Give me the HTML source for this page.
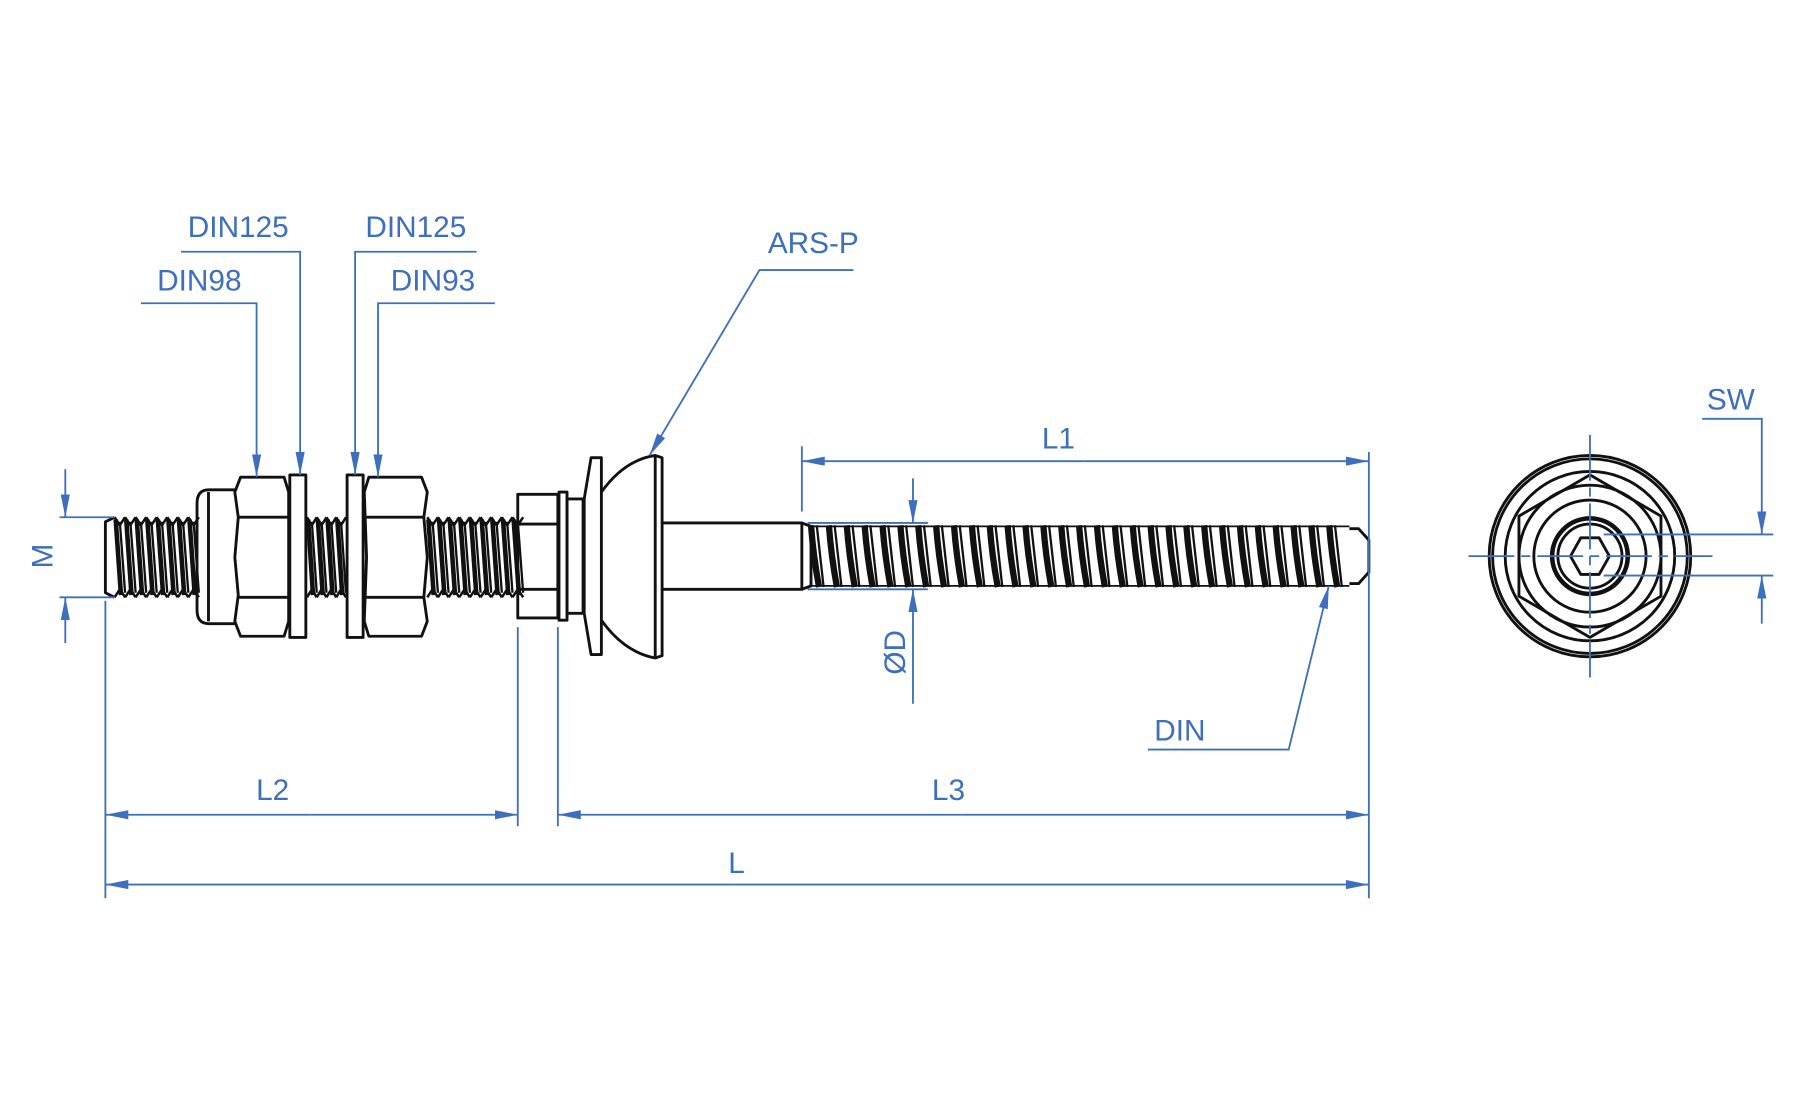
<!DOCTYPE html>
<html><head><meta charset="utf-8"><style>
html,body{margin:0;padding:0;background:#fff}
svg{display:block}
text{font-family:"Liberation Sans",sans-serif;fill:#3d6fbd;font-size:26px}
</style></head><body>
<svg id="s" width="1795" height="1110" viewBox="0 0 1567 970" preserveAspectRatio="none" xmlns="http://www.w3.org/2000/svg">
<defs>
<marker id="a" viewBox="0 0 20 8" refX="20" refY="4" markerWidth="20" markerHeight="8" markerUnits="userSpaceOnUse" orient="auto"><path d="M0,0L20,4L0,8z" fill="#3d6fbd"/></marker>
</defs>
<g id="blk" fill="none" stroke="#111" stroke-width="2.5" stroke-linejoin="round">
<path d="M100,452 L92,456 L92,518 L100,522"/>
<path d="M205,428 L182,428 Q172,428 172,440 L172,533 Q172,545 182,545 L205,545"/>
<path d="M182,430 L182,543"/>
<path d="M210,417 L248,417 L252,430 L252,543 L248,556 L210,556 L205,543 L208,520 L205,487 L208,452 L205,430 Z"/>
<path d="M208,452 L252,452 M208,522 L252,522"/>
<rect x="253" y="415" width="14" height="142"/>
<rect x="303" y="415" width="14" height="142"/>
<path d="M322,417 L368,417 L373,430 L370,452 L373,487 L370,522 L373,543 L368,556 L322,556 L318,543 L320,487 L318,430 Z"/>
<path d="M320,452 L370,452 M320,522 L370,522"/>
<rect x="452" y="432" width="35" height="108"/>
<path d="M452,458 L487,458 M452,515 L487,515"/>
<rect x="488" y="430" width="7" height="112"/>
<rect x="495" y="436" width="14" height="100"/>
<path d="M516,400 L525,400 L525,572 L516,572 L510,536 L510,436 Z"/>
<path d="M525,430 Q545,402 572,398 L578,400 L578,573 L572,575 Q545,570 525,542"/>
<path d="M572,398 L572,575"/>
<path d="M578,457 L700,457 L700,515 L578,515"/>
<path d="M700,457 L708,460 L708,512 L700,515"/>
<path d="M1178,462 L1186,462 L1195,472 L1195,500 L1186,510 L1178,510"/>
<path d="M708,460 L1178,460 M708,512 L1178,512" stroke-width="1.5"/>
<circle cx="1388" cy="486" r="88"/>
<circle cx="1388" cy="486" r="85"/>
<circle cx="1388" cy="486" r="74"/>
<polygon points="1388,415 1450,451 1450,521 1388,557 1326,521 1326,451"/>
<circle cx="1388" cy="486" r="62"/>
<circle cx="1388" cy="486" r="49"/>
<circle cx="1388" cy="486" r="33" stroke-width="4"/>
<circle cx="1388" cy="486" r="28"/>
<polygon points="1371,486 1380,470 1396,470 1405,486 1396,502 1380,502"/>
</g>
<g id="thr" stroke="#111" fill="none"></g>
<g fill="none" stroke="#3d6fbd" stroke-width="1.6">
<path d="M57,410 L57,452" marker-end="url(#a)"/>
<path d="M57,562 L57,522" marker-end="url(#a)"/>
<path d="M52,452 L100,452 M52,522 L100,522"/>
<path d="M700,390 L700,447 M1195,395 L1195,785"/>
<path d="M947,403 L700,403" marker-end="url(#a)"/>
<path d="M947,403 L1195,403" marker-end="url(#a)"/>
<path d="M797,418 L797,457" marker-end="url(#a)"/>
<path d="M797,615 L797,515" marker-end="url(#a)"/>
<path d="M705,457 L810,457 M705,515 L810,515"/>
<path d="M1002,655 L1125,655 L1160,512" marker-end="url(#a)"/>
<path d="M92,525 L92,785 M452,548 L452,722 M487,548 L487,722"/>
<path d="M270,712 L92,712" marker-end="url(#a)"/>
<path d="M270,712 L452,712" marker-end="url(#a)"/>
<path d="M840,712 L487,712" marker-end="url(#a)"/>
<path d="M840,712 L1195,712" marker-end="url(#a)"/>
<path d="M640,773 L92,773" marker-end="url(#a)"/>
<path d="M640,773 L1195,773" marker-end="url(#a)"/>
<path d="M158,220 L262,220 L262,415" marker-end="url(#a)"/>
<path d="M123,265 L224,265 L224,417" marker-end="url(#a)"/>
<path d="M416,220 L310,220 L310,415" marker-end="url(#a)"/>
<path d="M432,265 L330,265 L330,417" marker-end="url(#a)"/>
<path d="M745,236 L663,236 L567,398" marker-end="url(#a)"/>
<path d="M1486,366 L1538,366 L1538,467" marker-end="url(#a)"/>
<path d="M1538,545 L1538,503" marker-end="url(#a)"/>
<path d="M1400,467 L1548,467 M1400,503 L1548,503"/>
<path d="M1282,486 L1495,486 M1388,380 L1388,592" stroke-dasharray="40,6,8,6"/>
</g>
<text x="208" y="207" text-anchor="middle">DIN125</text>
<text x="174" y="254" text-anchor="middle">DIN98</text>
<text x="363" y="207" text-anchor="middle">DIN125</text>
<text x="378" y="254" text-anchor="middle">DIN93</text>
<text x="710" y="221" text-anchor="middle">ARS-P</text>
<text x="924" y="392" text-anchor="middle">L1</text>
<text x="1030" y="647" text-anchor="middle">DIN</text>
<text x="238" y="699" text-anchor="middle">L2</text>
<text x="828" y="699" text-anchor="middle">L3</text>
<text x="643" y="763" text-anchor="middle">L</text>
<text x="1511" y="358" text-anchor="middle">SW</text>
<text transform="translate(46,486) rotate(-90)" text-anchor="middle" font-size="30">M</text>
<text transform="translate(790,570) rotate(-90)" text-anchor="middle">ØD</text>
</svg>
<script>
var g=document.getElementById('thr'),h='';
function seg(x0,x1,p){
 for(var x=x0;x<x1-2;x+=p){
  h+='<path d="M'+x+',452 L'+(x+p/2)+',459 L'+(x+p)+',452" stroke-width="2.2"/>';
  h+='<path d="M'+x+',522 L'+(x+p/2)+',515 L'+(x+p)+',522" stroke-width="2.2"/>';
  h+='<path d="M'+(x+1)+',454 L'+(x+p/2+1)+',520" stroke-width="4"/>';
  h+='<path d="M'+(x+p/2)+',456 L'+(x+p)+',518" stroke-width="2"/>';
 }
}
seg(100,172,9.2);seg(268,302,8.5);seg(373,452,9.3);
for(var x=708;x<1168;x+=15.6){
 h+='<path d="M'+x+',459 Q'+(x+2)+',486 '+(x+7)+',513" stroke-width="5.5"/>';
 h+='<path d="M'+(x+5)+',459 Q'+(x+8)+',486 '+(x+11)+',513" stroke-width="2"/>';
}
g.innerHTML=h;
</script>
</body></html>
